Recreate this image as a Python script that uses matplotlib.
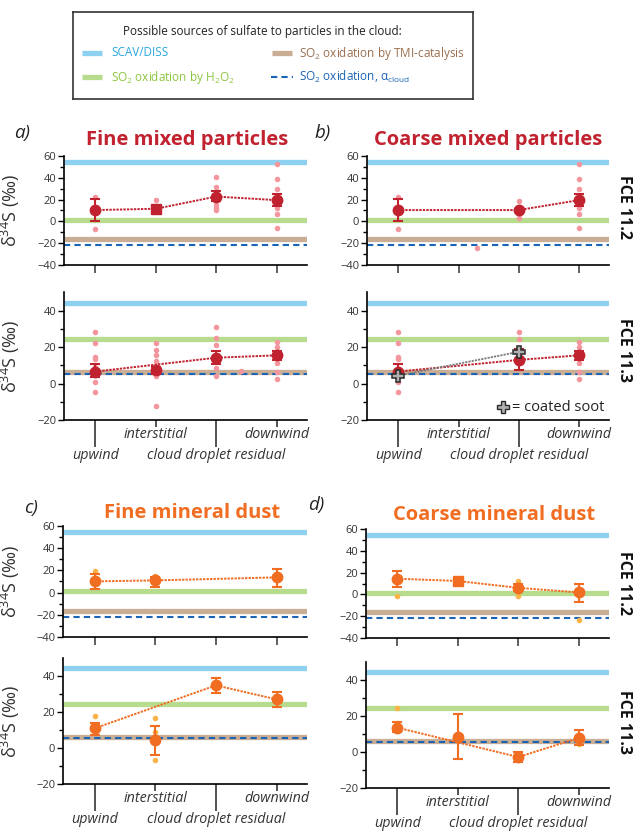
import matplotlib
matplotlib.use("Agg")
import matplotlib.pyplot as plt
import numpy as np

plt.rcParams["font.family"] = ["Open Sans", "DejaVu Sans"]
plt.rcParams["mathtext.fontset"] = "custom"
plt.rcParams["mathtext.rm"] = "Open Sans"
plt.rcParams["mathtext.it"] = "Open Sans:italic"
plt.rcParams["mathtext.bf"] = "Open Sans:bold"

# categories along x
categories = ["upwind", "interstitial", "cloud droplet residual", "downwind"]

# source reference values (SCAV/DISS, H2O2, TMI, alpha_cloud) per cloud event
sources_112 = [54.5, 1.5, -16.5, -22]
sources_113 = [44.5, 24.2, 6.3, 5.3]

# (a) fine mixed particles
a112_mean = [10.4, 11.6, 22.8, 19.5]
a112_lo = [0.3, 8.5, 18.5, 14.3]
a112_hi = [21.0, 14.2, 27.7, 25.5]
a112_dot_x = [0, 0, 1, 1, 2, 2, 2, 2, 2, 2, 3, 3, 3, 3, 3, 3, 3]
a112_dot_y = [22, -7, 20, 9.5, 40.6, 31.7, 21, 14.6, 12, 10.7, 52.4, 38.7, 29.9, 15.6, 12.5, 6.7, -6.1]
a112_line = [0, 1, 2, 3]

a113_mean = [6.6, 7.3, 14.2, 15.5]
a113_lo = [3.5, 5.3, 10.6, 13.2]
a113_hi = [10.6, 9.3, 17.9, 18.1]
a113_dot_x = [0, 0, 0, 0, 0, 0, 0, 1, 1, 1, 1, 1, 1, 1, 2, 2, 2, 2, 2, 2.4, 3, 3, 3, 3, 3]
a113_dot_y = [28.5, 22.1, 14.6, 13.5, 9.1, 1.1, -4.6, 22.1, 18.4, 15.5, 12.4, 9.3, 4.4, -12.2,
              31, 25.2, 21.2, 8.4, 4.3, 6.7, 22.8, 20.3, 11.1, 6.6, 2.4]
a113_line = [0, 2, 3]

# (b) coarse mixed particles
b112_mean = [10.4, np.nan, 10.4, 19.5]
b112_lo = [0.3, np.nan, 9.0, 14.3]
b112_hi = [21.0, np.nan, 11.8, 25.5]
b112_dot_x = [0, 0, 1.3, 2, 2, 2, 2, 3, 3, 3, 3, 3, 3, 3]
b112_dot_y = [22, -7, -24, 19.1, 13.4, 6.7, 2.7, 52.4, 38.7, 29.9, 15.6, 12.5, 6.7, -6.1]
b112_line = [0, 2, 3]

b113_mean = [6.6, np.nan, 13.0, 15.5]
b113_lo = [3.5, np.nan, 7.5, 13.2]
b113_hi = [10.6, np.nan, 19.0, 18.1]
b113_dot_x = [0, 0, 0, 0, 0, 0, 2, 2, 3, 3, 3, 3, 3]
b113_dot_y = [28.5, 22.1, 14.6, 13.5, 1.1, -4.6, 28.5, 24.5, 22.8, 20.3, 11.1, 6.6, 2.4]
b113_line = [0, 2, 3]
soot_x = [0, 2]
soot_y = [4.4, 17.4]

# (c) fine mineral dust
c112_mean = [10.1, 11.0, np.nan, 13.7]
c112_lo = [3.4, 5.0, np.nan, 5.2]
c112_hi = [17.1, 14.0, np.nan, 21.7]
c112_dot_x = [0, 1]
c112_dot_y = [19.8, 15.3]
c112_line = [0, 1, 3]

c113_mean = [10.9, 4.4, 34.8, 27.0]
c113_lo = [7.2, -3.9, 30.4, 22.8]
c113_hi = [13.7, 12.4, 38.9, 31.3]
c113_dot_x = [0, 1, 1, 1]
c113_dot_y = [17.6, 16.5, 9.1, -6.9]
c113_line = [0, 2, 3]

# (d) coarse mineral dust
d112_mean = [14.4, 12.3, 6.0, 1.8]
d112_lo = [7.2, 10.8, 3.0, -6.6]
d112_hi = [21.6, 13.8, 9.3, 9.9]
d112_dot_x = [0, 2, 2, 3]
d112_dot_y = [-1.5, 12, -1.2, -23.4]
d112_line = [0, 1, 2, 3]

d113_mean = [13.5, 8.5, -2.8, 7.8]
d113_lo = [10.9, -4.1, -5.6, 4.1]
d113_hi = [16.7, 21.3, 0.0, 12.4]
d113_dot_x = [0, 0, 3]
d113_dot_y = [24.4, 16.0, 4.6]
d113_line = [0, 2, 3]

# colours
SCAV_C = "#8dd0ef"
H2O2_C = "#b8dc8e"
TMI_C = "#c9ae95"
ALPHA_C = "#1b63b4"
RED = "#c1222f"
PINK = "#f4969e"
ORANGE = "#f06d22"
LIGHT_OR = "#fbb246"
TXT = "#333333"

W, H = 636, 833
fig = plt.figure(figsize=(W / 100, H / 100), dpi=100)


def add_ax(x0, y_top, x1, y_bot):
    return fig.add_axes([x0 / W, 1 - y_bot / H, (x1 - x0) / W, (y_bot - y_top) / H])


def draw_sources(ax, vals):
    scav, h2o2, tmi, alpha = vals
    ax.axhline(scav, color=SCAV_C, lw=3.8, zorder=1, solid_capstyle="butt")
    ax.axhline(h2o2, color=H2O2_C, lw=3.8, zorder=1, solid_capstyle="butt")
    ax.axhline(tmi, color=TMI_C, lw=3.8, zorder=1, solid_capstyle="butt")
    ax.axhline(alpha, color=ALPHA_C, lw=1.5, ls=(0, (3, 2)), zorder=2)


def draw_series(ax, mean, lo, hi, dx, dy, line, color, dotcolor, squares=()):
    mean = np.array(mean, dtype=float)
    lo = np.array(lo, dtype=float)
    hi = np.array(hi, dtype=float)
    x = np.arange(len(mean))
    ax.plot(dx, dy, "o", ms=4, color=dotcolor, mec="none", zorder=3)
    ax.plot(x[line], mean[line], color=color, lw=1.4, ls=(0, (1.2, 0.6)), zorder=4)
    for i in range(len(mean)):
        if np.isnan(mean[i]):
            continue
        mk = "s" if i in squares else "o"
        ax.errorbar(x[i], mean[i], yerr=[[mean[i] - lo[i]], [hi[i] - mean[i]]],
                    fmt=mk, ms=7.5 if mk == "o" else 6.5, color=color, ecolor=color,
                    elinewidth=1.5, capsize=3.5, capthick=1.5, zorder=5)


def style(ax, top, ylabel=True, left_px=64, width_px=243):
    for s in ["top", "right"]:
        ax.spines[s].set_visible(False)
    ax.spines["left"].set_linewidth(1.2)
    ax.spines["bottom"].set_linewidth(1.2)
    ax.set_xlim(-0.52, 3.5)
    if top:
        ax.set_ylim(-40, 60)
        ax.set_yticks([-40, -20, 0, 20, 40, 60])
        ax.set_yticks([-30, -10, 10, 30, 50], minor=True)
        ax.set_xticks([0, 1, 2, 3])
        ax.set_xticklabels([])
        ax.tick_params(axis="x", length=5.5, width=1.2, color="#444444")
    else:
        ax.set_ylim(-20, 50)
        ax.set_yticks([-20, 0, 20, 40])
        ax.set_yticks([-10, 10, 30], minor=True)
        ax.set_xticks([0, 2])
        ax.set_xticklabels([categories[0], categories[2]], fontsize=10.3, style="italic", color=TXT)
        ax.set_xticks([1, 3], minor=True)
        ax.set_xticklabels([categories[1], categories[3]], minor=True, fontsize=10.3,
                           style="italic", color=TXT)
        ax.tick_params(axis="x", which="major", length=19.5, width=1.3, color="#444444", pad=0.5)
        ax.tick_params(axis="x", which="minor", length=5, width=1.3, color="#444444", pad=0)
    ax.tick_params(axis="y", which="major", length=4, width=1, labelsize=8, labelcolor=TXT, pad=1.5)
    ax.tick_params(axis="y", which="minor", length=3, width=1)
    if ylabel:
        ax.set_ylabel("δ$^{34}$S (‰)", fontsize=13, color=TXT)
        ax.yaxis.set_label_coords((22 - left_px) / width_px, 0.5)


# panel a
ax = add_ax(64, 156, 307, 265)
draw_sources(ax, sources_112)
draw_series(ax, a112_mean, a112_lo, a112_hi, a112_dot_x, a112_dot_y, a112_line, RED, PINK, squares=(1,))
style(ax, True)
ax = add_ax(64, 292.5, 307, 420)
draw_sources(ax, sources_113)
draw_series(ax, a113_mean, a113_lo, a113_hi, a113_dot_x, a113_dot_y, a113_line, RED, PINK)
style(ax, False)

# panel b
ax = add_ax(367, 156, 609, 265)
draw_sources(ax, sources_112)
draw_series(ax, b112_mean, b112_lo, b112_hi, b112_dot_x, b112_dot_y, b112_line, RED, PINK)
style(ax, True, ylabel=False)
ax = add_ax(367, 292.5, 609, 420)
draw_sources(ax, sources_113)
draw_series(ax, b113_mean, b113_lo, b113_hi, b113_dot_x, b113_dot_y, b113_line, RED, PINK)
ax.plot(soot_x, soot_y, color="#7a7a7a", lw=1.3, ls=(0, (1.2, 0.6)), zorder=6)
ax.plot(soot_x, soot_y, "P", ms=9, mfc="#b0b0b0", mec="#2a2a2a", mew=1.1, zorder=7)
ax.plot([0.56], [0.1], "P", ms=8, mfc="#b0b0b0", mec="#2a2a2a", mew=1.0,
        transform=ax.transAxes, clip_on=False)
ax.text(0.6, 0.1, "= coated soot", transform=ax.transAxes, fontsize=10.5,
        color="#222222", va="center", ha="left")
style(ax, False, ylabel=False)

# panel c
ax = add_ax(63, 526, 307, 637)
draw_sources(ax, sources_112)
draw_series(ax, c112_mean, c112_lo, c112_hi, c112_dot_x, c112_dot_y, c112_line, ORANGE, LIGHT_OR)
style(ax, True, left_px=63, width_px=244)
ax = add_ax(63, 658, 307, 784)
draw_sources(ax, sources_113)
draw_series(ax, c113_mean, c113_lo, c113_hi, c113_dot_x, c113_dot_y, c113_line, ORANGE, LIGHT_OR)
style(ax, False, left_px=63, width_px=244)

# panel d
ax = add_ax(366, 529, 609, 638)
draw_sources(ax, sources_112)
draw_series(ax, d112_mean, d112_lo, d112_hi, d112_dot_x, d112_dot_y, d112_line, ORANGE, LIGHT_OR,
            squares=(1,))
style(ax, True, ylabel=False)
ax = add_ax(366, 662, 609, 788)
draw_sources(ax, sources_113)
draw_series(ax, d113_mean, d113_lo, d113_hi, d113_dot_x, d113_dot_y, d113_line, ORANGE, LIGHT_OR)
style(ax, False, ylabel=False)

# panel letters and titles
for lab, x, y in [("a)", 22, 133), ("b)", 323, 133), ("c)", 31, 508), ("d)", 316, 505)]:
    fig.text(x / W, 1 - y / H, lab, fontsize=13.5, style="italic", color="#222222", ha="center", va="center")
for t, x, y, c in [("Fine mixed particles", 187, 140, RED), ("Coarse mixed particles", 488, 140, RED),
                   ("Fine mineral dust", 192, 513, ORANGE), ("Coarse mineral dust", 494, 515, ORANGE)]:
    fig.text(x / W, 1 - y / H, t, fontsize=14.5, weight="bold", color=c, ha="center", va="center")
for t, y in [("FCE 11.2", 207), ("FCE 11.3", 350), ("FCE 11.2", 583), ("FCE 11.3", 722)]:
    fig.text(624 / W, 1 - y / H, t, fontsize=11.5, weight="bold", color="#111111",
             rotation=270, ha="center", va="center")

# legend box
lg = fig.add_axes([73 / W, 1 - 99 / H, 400 / W, 87 / H])
lg.set_xlim(73, 473)
lg.set_ylim(99, 12)
lg.set_xticks([])
lg.set_yticks([])
for s in lg.spines.values():
    s.set_linewidth(1.2)
    s.set_color("#333333")
lg.text(262, 31, "Possible sources of sulfate to particles in the cloud:", fontsize=8.5,
        color="#222222", ha="center", va="center")
lg.plot([82, 102], [53, 53], color=SCAV_C, lw=3.8, solid_capstyle="butt")
lg.text(111, 53, "SCAV/DISS", fontsize=8.5, color="#2aa7df", va="center")
lg.plot([82, 102], [77, 77], color=H2O2_C, lw=3.8, solid_capstyle="butt")
lg.text(111, 77, "SO$_2$ oxidation by H$_2$O$_2$", fontsize=8.5, color="#8cc63e", va="center")
lg.plot([272, 292], [53, 53], color=TMI_C, lw=3.8, solid_capstyle="butt")
lg.text(299, 53, "SO$_2$ oxidation by TMI-catalysis", fontsize=8.5, color="#9a6f4f", va="center")
lg.plot([271, 293], [77, 77], color=ALPHA_C, lw=1.5, ls=(0, (3, 2)))
lg.text(299, 77, "SO$_2$ oxidation, α$_{\\mathrm{cloud}}$", fontsize=8.5, color=ALPHA_C, va="center")

fig.savefig("out.png", dpi=100)
